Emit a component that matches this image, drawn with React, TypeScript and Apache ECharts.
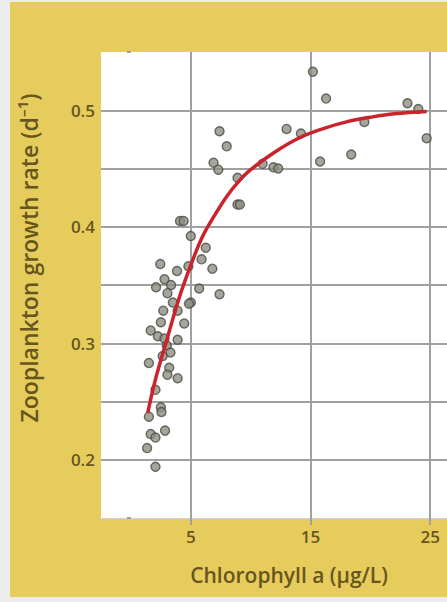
import React, { useEffect, useRef } from 'react';
import * as echarts from 'echarts';

// Scatter observations: chlorophyll a (µg/L) vs zooplankton growth rate (d^-1)
const chlorophyll = [15.2, 16.3, 23.1, 24.0, 24.7, 19.5, 18.4, 15.8, 7.4, 8.0, 6.9, 7.3, 8.9, 8.9, 9.1, 11.0, 11.9, 12.3, 13.0, 14.2, 4.1, 4.4, 5.0, 6.25, 5.9, 6.8, 2.45, 3.85, 4.8, 2.8, 2.1, 3.35, 5.7, 7.4, 3.05, 5.0, 3.5, 2.7, 3.9, 4.85, 2.5, 4.45, 1.65, 2.25, 3.9, 2.8, 3.0, 3.3, 2.65, 1.5, 3.2, 3.05, 3.9, 2.05, 1.5, 2.5, 2.55, 1.65, 2.05, 2.85, 1.35, 2.05];
const growthRate = [0.533, 0.510, 0.506, 0.501, 0.476, 0.490, 0.462, 0.456, 0.482, 0.469, 0.455, 0.449, 0.442, 0.419, 0.419, 0.454, 0.451, 0.450, 0.484, 0.480, 0.405, 0.405, 0.392, 0.382, 0.372, 0.364, 0.368, 0.362, 0.366, 0.355, 0.348, 0.350, 0.347, 0.342, 0.343, 0.335, 0.335, 0.328, 0.328, 0.334, 0.318, 0.317, 0.311, 0.306, 0.303, 0.304, 0.298, 0.292, 0.289, 0.283, 0.279, 0.273, 0.270, 0.260, 0.237, 0.245, 0.241, 0.222, 0.219, 0.225, 0.210, 0.194];

// Fitted saturating curve
const fitX = [1.4, 2, 3, 4, 5, 6, 7, 8, 9, 10, 12, 14, 16, 18, 20, 22, 24.7];
const fitY = [0.240, 0.267, 0.303, 0.338, 0.367, 0.392, 0.410, 0.426, 0.439, 0.449, 0.464, 0.476, 0.484, 0.490, 0.494, 0.497, 0.499];

const xTickValues = [5, 15, 25];
const yTickLabels = [0.2, 0.3, 0.4, 0.5];

const xTitle = 'Chlorophyll a (µg/L)';
const yTitle = 'Zooplankton growth rate (d⁻¹)';

const TEXT = '#66561c';
const GRID = '#a0a0a0';
const FONT = '"Open Sans", "Noto Sans", sans-serif';

export default function App() {
  const ref = useRef<HTMLDivElement>(null);

  useEffect(() => {
    if (!ref.current) return;
    const chart = echarts.init(ref.current, undefined, { renderer: 'svg' });
    chart.setOption({
      animation: false,
      backgroundColor: 'transparent',
      grid: {
        left: 101,
        top: 52,
        right: 0,
        bottom: 84,
        show: true,
        backgroundColor: '#ffffff',
        borderWidth: 0,
      },
      xAxis: {
        type: 'value',
        min: -2.5,
        max: 26.4,
        axisLine: { show: true, lineStyle: { color: '#d2d2d2', width: 1 } },
        axisTick: {
          show: true,
          customValues: xTickValues,
          length: 7,
          lineStyle: { color: GRID, width: 2 },
        },
        axisLabel: {
          customValues: xTickValues,
          margin: 10,
          fontSize: 17,
          fontWeight: 600,
          fontFamily: FONT,
          color: TEXT,
        },
        splitLine: { show: true, lineStyle: { color: GRID, width: 2 } },
      },
      yAxis: {
        type: 'value',
        min: 0.15,
        max: 0.55,
        interval: 0.05,
        axisLine: { show: false },
        axisTick: { show: true, length: 4, lineStyle: { color: GRID, width: 2 } },
        axisLabel: {
          margin: 6,
          fontSize: 17,
          fontWeight: 600,
          fontFamily: FONT,
          color: TEXT,
          formatter: (v: number) =>
            yTickLabels.some((t) => Math.abs(t - v) < 1e-6) ? v.toFixed(1) : '',
        },
        splitLine: {
          show: true,
          showMinLine: false,
          showMaxLine: false,
          lineStyle: { color: GRID, width: 2 },
        },
      },
      series: [
        {
          type: 'scatter',
          data: chlorophyll.map((x, i) => [x, growthRate[i]]),
          symbol: 'circle',
          symbolSize: 9,
          itemStyle: { color: '#8f8f83', borderColor: '#4a4a43', borderWidth: 1.4 },
          z: 2,
        },
        {
          type: 'line',
          data: fitX.map((x, i) => [x, fitY[i]]),
          smooth: 0.4,
          showSymbol: false,
          symbol: 'none',
          lineStyle: { color: '#c9232c', width: 3.5 },
          z: 3,
        },
      ],
      graphic: [
        {
          type: 'text',
          x: 29,
          y: 258,
          rotation: Math.PI / 2,
          style: {
            text: yTitle,
            fontSize: 23,
            fontWeight: 600,
            fontFamily: FONT,
            fill: TEXT,
            align: 'center',
            verticalAlign: 'middle',
            textAlign: 'center',
            textVerticalAlign: 'middle',
          },
        },
        {
          type: 'text',
          x: 289,
          y: 575,
          style: {
            text: xTitle,
            fontSize: 21,
            fontWeight: 600,
            fontFamily: FONT,
            fill: TEXT,
            align: 'center',
            verticalAlign: 'middle',
            textAlign: 'center',
            textVerticalAlign: 'middle',
          },
        },
      ],
    });
    return () => chart.dispose();
  }, []);

  return (
    <div
      style={{
        position: 'fixed',
        left: 0,
        top: 0,
        width: 447,
        height: 602,
        background: '#ececec',
        overflow: 'hidden',
      }}
    >
      <div
        style={{
          position: 'absolute',
          left: 10,
          top: 2,
          width: 437,
          height: 595,
          background: '#e6cc5d',
        }}
      />
      <div ref={ref} style={{ position: 'absolute', left: 0, top: 0, width: 447, height: 602 }} />
    </div>
  );
}
